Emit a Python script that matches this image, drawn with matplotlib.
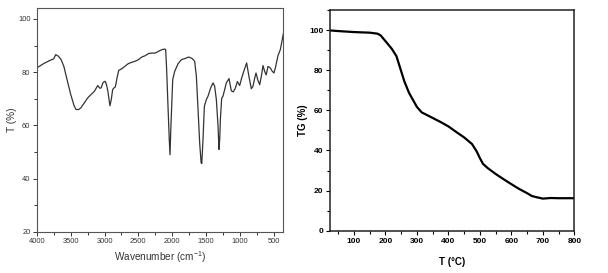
import numpy as np
import matplotlib
matplotlib.use("Agg")
import matplotlib.pyplot as plt
from matplotlib.ticker import MultipleLocator

plt.rcParams['font.family'] = ['Liberation Sans', 'DejaVu Sans']
plt.rcParams['mathtext.fontset'] = 'custom'
plt.rcParams['mathtext.rm'] = 'Liberation Sans'
plt.rcParams['mathtext.it'] = 'Liberation Sans'

# FTIR spectrum (wavenumber in cm-1, transmittance in %)
ir_wn = [4000, 3900, 3800, 3750, 3720, 3680, 3640, 3600, 3560, 3500, 3450, 3420,
         3380, 3350, 3300, 3250, 3200, 3150, 3100, 3070, 3050, 3020, 2990, 2970,
         2950, 2920, 2900, 2880, 2860, 2840, 2810, 2790, 2750, 2700, 2650, 2600,
         2550, 2500, 2450, 2400, 2350, 2300, 2250, 2200, 2150, 2110, 2098, 2085,
         2060, 2045, 2034, 2020, 1994, 1965, 1915, 1866, 1817, 1758, 1704, 1670,
         1645, 1620, 1596, 1575, 1565, 1547, 1527, 1498, 1473, 1434, 1399, 1375,
         1350, 1325, 1311, 1300, 1291, 1271, 1252, 1227, 1203, 1163, 1129, 1100,
         1070, 1040, 1006, 980, 950, 903, 870, 834, 810, 784, 765, 740, 711,
         686, 662, 637, 615, 588, 554, 524, 500, 480, 441, 406, 380, 362]
ir_t = [81.6, 83.2, 84.5, 85.0, 86.6, 86.0, 84.7, 82.2, 78.0, 71.8, 67.5, 66.0,
        66.0, 66.6, 68.4, 70.3, 71.6, 72.8, 75.0, 74.0, 74.1, 76.2, 76.6, 75.3,
        72.8, 67.4, 69.7, 73.5, 74.1, 74.5, 78.5, 80.7, 81.2, 82.2, 83.2, 83.7,
        84.1, 84.7, 85.7, 86.2, 87.0, 87.2, 87.2, 87.9, 88.5, 88.7, 88.5, 82.0,
        65.0, 55.0, 49.0, 60.0, 77.2, 80.3, 83.2, 84.7, 85.1, 85.7, 85.1, 84.1,
        78.5, 66.0, 53.4, 46.0, 45.7, 54.7, 67.2, 69.7, 71.0, 74.1, 76.0, 74.7,
        69.7, 59.7, 51.0, 55.0, 62.2, 70.3, 71.0, 73.5, 76.0, 77.6, 73.0, 72.6,
        74.0, 76.5, 75.0, 77.5, 80.0, 83.5, 78.5, 73.8, 74.7, 77.8, 79.7, 77.2, 75.3,
        78.5, 82.5, 80.3, 79.0, 82.2, 81.6, 80.3, 79.7, 81.6, 86.2, 88.5, 92.0, 94.5]

# TGA curve (temperature in C, weight in %)
tg_temp = [25, 50, 100, 150, 175, 185, 200, 220, 235, 250, 260, 275, 290, 300,
           315, 330, 350, 375, 400, 425, 450, 475, 490, 500, 510, 525, 550, 575,
           600, 625, 650, 665, 680, 700, 725, 750, 800]
tg_wt = [99.8, 99.5, 99.0, 98.7, 98.2, 97.3, 94.5, 90.7, 87.0, 79.5, 74.5, 68.7,
         64.5, 61.7, 59.0, 57.8, 56.2, 54.2, 52.0, 49.2, 46.5, 43.2, 39.5, 36.2,
         33.3, 31.2, 28.3, 25.7, 23.2, 20.8, 18.7, 17.3, 16.7, 16.0, 16.3, 16.2,
         16.2]

fig = plt.figure(figsize=(6.08, 2.73), dpi=100)

# left panel: IR spectrum
ax1 = fig.add_axes([0.0604, 0.1502, 0.4056, 0.8194])
ax1.plot(ir_wn, ir_t, color='#333333', lw=0.9)
ax1.set_xlim(4000, 362)
ax1.set_ylim(20, 104)
ax1.xaxis.set_major_locator(MultipleLocator(500))
ax1.xaxis.set_minor_locator(MultipleLocator(250))
ax1.yaxis.set_major_locator(MultipleLocator(20))
ax1.yaxis.set_minor_locator(MultipleLocator(10))
ax1.tick_params(which='both', direction='out', labelsize=5.4, colors='#333333',
                width=0.7, pad=1.5)
ax1.tick_params(which='major', length=3)
ax1.tick_params(which='minor', length=2)
for s in ax1.spines.values():
    s.set_color('#555555')
    s.set_linewidth(0.8)
ax1.set_xlabel('Wavenumber (cm$^{-1}$)', fontsize=7.2, color='#333333', labelpad=3)
ax1.set_ylabel('T (%)', fontsize=7.2, color='#333333', labelpad=0.5)

# right panel: TGA
bold = dict(family=['Liberation Sans Narrow', 'Liberation Sans', 'DejaVu Sans'],
            weight='bold')
ax2 = fig.add_axes([0.5433, 0.1549, 0.4013, 0.8085])
ax2.plot(tg_temp, tg_wt, color='black', lw=1.6)
ax2.set_xlim(25, 800)
ax2.set_ylim(0, 110)
ax2.xaxis.set_major_locator(MultipleLocator(100))
ax2.xaxis.set_minor_locator(MultipleLocator(50))
ax2.yaxis.set_major_locator(MultipleLocator(20))
ax2.yaxis.set_minor_locator(MultipleLocator(10))
ax2.tick_params(which='both', direction='out', labelsize=6, width=0.8, pad=2)
ax2.tick_params(which='major', length=3)
ax2.tick_params(which='minor', length=2)
for lab in ax2.get_xticklabels() + ax2.get_yticklabels():
    lab.set_fontfamily(bold['family'])
    lab.set_fontweight('bold')
for s in ax2.spines.values():
    s.set_color('#222222')
    s.set_linewidth(1.1)
ax2.set_xlabel('T (\u00b0C)', fontsize=7, labelpad=9, **bold)
ax2.set_ylabel('TG (%)', fontsize=7, labelpad=0.5, **bold)

fig.savefig('out.png', dpi=100)
